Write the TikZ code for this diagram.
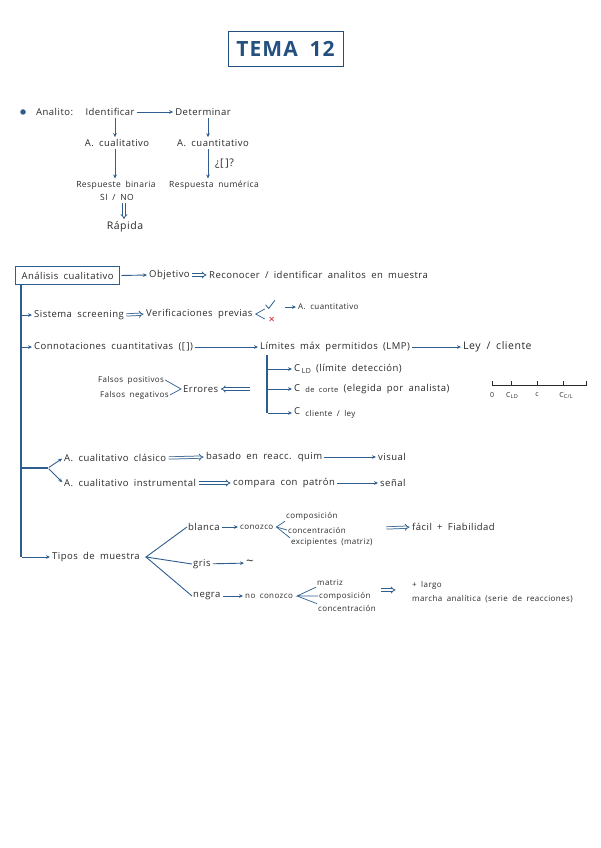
\documentclass[tikz,border=0pt]{standalone}
\usepackage{fontspec}
\setmainfont{Open Sans}[LetterSpace=5,WordSpace=1.8]
\usetikzlibrary{arrows.meta}
\definecolor{ink}{HTML}{2A2A2A}
\definecolor{pen}{HTML}{2F5E8E}
\definecolor{ttl}{HTML}{24507F}
\definecolor{redx}{HTML}{D9363E}
\begin{document}
\begin{tikzpicture}[x=1pt,y=-1pt,
  txt/.style={font=\fontsize{9.5}{11}\selectfont, text=ink, inner sep=1pt, anchor=west},
  sml/.style={txt, font=\fontsize{8}{9.5}\selectfont},
  ctxt/.style={txt, anchor=center},
  arr/.style={draw=pen, line width=0.9pt, -{Stealth[length=4pt,width=3.6pt]}, shorten >=1pt, shorten <=1pt},
  ln/.style={draw=pen, line width=1.2pt},
  fork/.style={draw=pen, line width=0.7pt},
  dbl/.style={draw=pen, double=white, double distance=1.6pt, line width=0.75pt, -{Implies}, shorten >=1.5pt, shorten <=1.5pt},
]
\useasboundingbox[fill=white] (0,0) rectangle (600,848);

% ---------- title
\node[draw=ttl, line width=0.8pt, minimum width=115pt, minimum height=35pt, text=ttl,
      font=\fontsize{21}{24}\selectfont\bfseries] (title) at (285.5,48.5) {TEMA 12};

% ---------- top tree
\node[circle, fill=pen, inner sep=0pt, minimum size=5.5pt] (bul) at (23,112) {};
\node[txt] (analito) at (35,112) {Analito:};
\node[ctxt] (ident) at (110,112) {Identificar};
\node[ctxt] (determ) at (203,112) {Determinar};
\draw[arr] (ident) -- (determ);
\node[ctxt] (acual) at (117,143) {A. cualitativo};
\draw[arr] ([xshift=-2pt]acual.north |- ident.south) -- ([xshift=-2pt]acual.north);
\node[ctxt] (acuant) at (213,143) {A. cuantitativo};
\draw[arr] ([xshift=-5pt]acuant.north |- determ.south) -- ([xshift=-5pt]acuant.north);
\node[ctxt, font=\fontsize{8.5}{10}\selectfont] (rbin) at (116,185) {Respueste binaria};
\node[ctxt, font=\fontsize{8.5}{10}\selectfont] (sino) at (117,197) {SI / NO};
\draw[arr] ([xshift=-2pt]acual.south) -- ([xshift=-2pt]acual.south |- rbin.north);
\node[ctxt, font=\fontsize{10.5}{12}\selectfont] (rapida) at (125,227) {Rápida};
\draw[dbl] ([xshift=-1pt]rapida.north |- sino.south) -- ([xshift=-1pt]rapida.north);
\node[ctxt, font=\fontsize{8.5}{10}\selectfont] (rnum) at (214,185) {Respuesta numérica};
\draw[arr] ([xshift=-5pt]acuant.south) -- ([xshift=-5pt]acuant.south |- rnum.north);
\node[txt, font=\fontsize{10.5}{12}\selectfont] (cc) at (214,164) {¿[\,]?};

% ---------- Analisis cualitativo
\node[txt, draw=pen, line width=1.3pt, minimum width=104pt, minimum height=18pt] (acb) at (15,275.5) {Análisis cualitativo};
\node[txt] (obj) at (148,275) {Objetivo};
\draw[arr] (acb.east) -- (obj.west);
\node[txt] (recon) at (208,275) {Reconocer / identificar analitos en muestra};
\draw[dbl] (obj.east) -- (recon.west);

\coordinate (t1) at (21,315);
\coordinate (t2) at (21,347);
\coordinate (t3) at (21,468);
\coordinate (t4) at (21,557);
\draw[ln] (acb.south west -| t1) -- (t4);

% row: sistema screening
\node[txt] (sist) at (33,315) {Sistema screening};
\draw[arr] (t1) -- (sist.west);
\node[txt] (verif) at (145,314) {Verificaciones previas};
\draw[dbl] (sist.east) -- (verif.west);
\coordinate (vf) at ([xshift=2pt]verif.east);
\draw[fork] ([shift={(9,-5)}]vf) -- (vf) -- ([shift={(9,5)}]vf);
\coordinate (chk) at ([shift={(10,-9)}]vf);
\draw[pen, line width=0.8pt, line cap=round, line join=round] (chk) -- ++(3,3.5) -- ++(6,-8);
\coordinate (xm) at ([shift={(16,5)}]vf);
\draw[redx, line width=0.7pt] ([shift={(-2,-2)}]xm) -- ([shift={(2,2)}]xm) ([shift={(-2,2)}]xm) -- ([shift={(2,-2)}]xm);
\coordinate (chkend) at ([shift={(28,-7)}]vf);
\node[sml] (acuant2) at (297,307) {A. cuantitativo};
\draw[arr] (chkend) -- (acuant2.west);

% row: connotaciones
\node[txt] (conn) at (33,347) {Connotaciones cuantitativas ([\,])};
\draw[arr] (t2) -- (conn.west);
\node[txt] (lim) at (259,347) {Límites máx permitidos (LMP)};
\draw[arr] (conn.east) -- (lim.west);
\node[txt, font=\fontsize{10.5}{12}\selectfont] (ley) at (462,347) {Ley / cliente};
\draw[arr] (lim.east) -- (ley.west);

\coordinate (s0) at (267,355);
\coordinate (s1) at (267,369);
\coordinate (s2) at (267,389);
\coordinate (s3) at (267,413);
\draw[ln] (s0) -- (s3);
\node[txt] (cld) at (293,369) {C\,\raisebox{-1.5pt}{\fontsize{7}{8}\selectfont LD} (límite detección)};
\node[txt] (ccor) at (293,389) {C \raisebox{-1.5pt}{\fontsize{7.5}{8}\selectfont de corte} (elegida por analista)};
\node[txt] (ccli) at (293,413) {C \raisebox{-1.5pt}{\fontsize{8}{8}\selectfont cliente / ley}};
\draw[arr] (s1) -- (cld.west);
\draw[arr] (s2) -- (ccor.west);
\draw[arr] (s3) -- (ccli.west);

% errores
\node[txt] (err) at (182,389) {Errores};
\coordinate (errsrc) at (251,389);
\draw[dbl] (errsrc) -- (err.east);
\node[sml] (fp) at (97,380) {Falsos positivos};
\node[sml] (fn) at (99,395) {Falsos negativos};
\draw[fork] (fp.east) -- ([xshift=-1pt]err.west) -- (fn.east);

% number line
\draw[ink, line width=0.8pt] (492,385) -- (586,385);
\foreach \xx in {492,511,537,563,586} \draw[ink, line width=0.8pt] (\xx,381) -- (\xx,386);
\node[ctxt, font=\fontsize{7}{8}\selectfont] (n0) at (492,395) {0};
\node[ctxt, font=\fontsize{7}{8}\selectfont] (n1) at (512,395) {C\raisebox{-1pt}{\fontsize{5.5}{6}\selectfont LD}};
\node[ctxt, font=\fontsize{7}{8}\selectfont] (n2) at (537,395) {c};
\node[ctxt, font=\fontsize{7}{8}\selectfont] (n3) at (566,395) {C\raisebox{-1pt}{\fontsize{5.5}{6}\selectfont C/L}};

% ---------- clasico / instrumental
\coordinate (f3) at (48,468);
\draw[ln] (t3) -- (f3);
\node[txt] (clas) at (63,458) {A. cualitativo clásico};
\node[txt] (inst) at (63,483) {A. cualitativo instrumental};
\draw[arr] (f3) -- (clas.west);
\draw[arr] (f3) -- (inst.west);
\node[txt] (bas) at (205,457) {basado en reacc. quim};
\draw[dbl] (clas.east) -- (bas.west);
\node[txt] (vis) at (377,457) {visual};
\draw[arr] (bas.east) -- (vis.west);
\node[txt] (comp) at (232,483) {compara con patrón};
\draw[dbl] (inst.east) -- (comp.west);
\node[txt] (sen) at (379,483) {señal};
\draw[arr] (comp.east) -- (sen.west);

% ---------- tipos de muestra
\node[txt] (tipos) at (51,557) {Tipos de muestra};
\draw[arr] (t4) -- (tipos.west);
\coordinate (tf) at ([xshift=5pt]tipos.east);
\node[txt] (blanca) at (187,527) {blanca};
\node[txt] (gris) at (192,564) {gris};
\node[txt] (negra) at (192,596) {negra};
\draw[ln, line width=0.9pt] (blanca.west) -- (tf) -- (gris.west);
\draw[ln, line width=0.9pt] (tf) -- (negra.west);

% blanca
\node[sml] (conozco) at (239,527) {conozco};
\draw[arr] (blanca) -- (conozco);
\coordinate (bf) at ([xshift=2pt]conozco.east);
\node[sml] (bcomp) at (285,516) {composición};
\node[sml] (bconc) at (287,530) {concentración};
\node[sml] (bexc) at (290,543) {excipientes (matriz)};
\draw[fork] (bcomp.south west) -- (bf) -- (bconc.west);
\draw[fork] (bf) -- (bexc.north west);
\coordinate (bd) at (385,528);
\node[txt] (facil) at (411,527) {fácil + Fiabilidad};
\draw[dbl] (bd) -- (facil.west);

% gris
\node[txt, font=\fontsize{13}{13}\selectfont] (tilde) at (245,563) {\textasciitilde};
\draw[arr] (gris) -- (tilde);

% negra
\node[sml] (noc) at (244,596) {no conozco};
\draw[arr] (negra) -- (noc);
\coordinate (nf) at ([xshift=3pt]noc.east);
\node[sml] (nmat) at (316,583) {matriz};
\node[sml] (ncomp) at (318,596) {composición};
\node[sml] (nconc) at (317,608) {concentración};
\draw[fork] (nmat.south west) -- (nf) -- (ncomp.west);
\draw[fork] (nf) -- (nconc.north west);
\coordinate (nd) at (379,590);
\coordinate (nde) at (397,590);
\draw[dbl] (nd) -- (nde);
\node[sml] (largo) at (411,585) {+ largo};
\node[sml] (marcha) at (411,599) {marcha analítica (serie de reacciones)};
\end{tikzpicture}
\end{document}
